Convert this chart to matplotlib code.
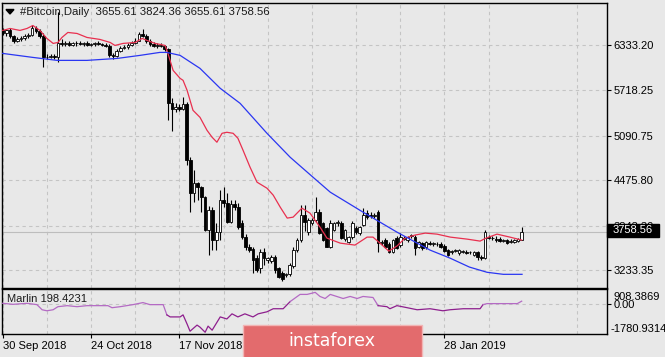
import matplotlib
matplotlib.use('Agg')
import matplotlib.pyplot as plt
import numpy as np
from matplotlib.patches import Rectangle, Polygon

# daily candles, 30 Sep 2018 .. 18 Feb 2019
opens = [6540, 6500, 6540, 6460, 6400, 6420, 6440, 6460, 6480, 6570,
         6530, 6470, 6170, 6180, 6190, 6170, 6370, 6350, 6370, 6345,
         6360, 6370, 6350, 6360, 6345, 6350, 6365, 6350, 6335, 6330,
         6200, 6190, 6260, 6300, 6310, 6340, 6370, 6400, 6490, 6470,
         6400, 6350, 6330, 6340, 6320, 6280, 5540, 5450, 5480, 5450,
         5530, 4760, 4300, 4430, 4380, 4240, 3790, 4060, 3650, 3760,
         4200, 4160, 3900, 4150, 4100, 3880, 3690, 3560, 3530, 3400,
         3260, 3480, 3380, 3360, 3420, 3260, 3200, 3170, 3180, 3290,
         3510, 3650, 3990, 3760, 3890, 3930, 4040, 3880, 3810, 3560,
         3790, 3890, 3890, 3660, 3630, 3690, 3810, 3750, 3860, 4020,
         3990, 3980, 4040, 3610, 3650, 3600, 3490, 3680, 3580, 3680,
         3650, 3700, 3690, 3560, 3610, 3550, 3610, 3590, 3600, 3600,
         3570, 3510, 3480, 3500, 3470, 3490, 3490, 3480, 3450, 3480,
         3420, 3400, 3690, 3680, 3670, 3660, 3640, 3650, 3630, 3630,
         3640, 3655.61]
highs = [6580, 6560, 6570, 6480, 6450, 6470, 6490, 6500, 6610, 6600,
         6560, 6500, 6210, 6220, 6210, 6800, 6420, 6390, 6400, 6380,
         6390, 6400, 6380, 6390, 6370, 6380, 6390, 6370, 6360, 6350,
         6230, 6290, 6320, 6340, 6360, 6390, 6430, 6520, 6560, 6490,
         6420, 6380, 6360, 6370, 6340, 6300, 5610, 5540, 5520, 5620,
         5550, 4790, 4610, 4450, 4400, 4260, 4120, 4100, 3880, 4340,
         4380, 4300, 4200, 4200, 4160, 3920, 3730, 3600, 3560, 3440,
         3530, 3540, 3420, 3450, 3450, 3280, 3220, 3200, 3330, 3560,
         3680, 4130, 4140, 3950, 3960, 4240, 4080, 3900, 3830, 3920,
         3900, 3920, 3910, 3800, 3710, 3910, 3850, 3850, 4090, 4070,
         4040, 4030, 4060, 3650, 3680, 3630, 3670, 3700, 3750, 3710,
         3710, 3740, 3720, 3640, 3630, 3640, 3640, 3630, 3620, 3620,
         3590, 3530, 3520, 3530, 3530, 3520, 3510, 3500, 3500, 3500,
         3440, 3790, 3720, 3710, 3700, 3690, 3670, 3670, 3660, 3670,
         3680, 3824.36]
lows = [6480, 6470, 6430, 6360, 6380, 6390, 6410, 6430, 6470, 6500,
        6440, 6030, 6140, 6160, 6150, 6100, 6330, 6330, 6330, 6320,
        6330, 6340, 6320, 6330, 6320, 6330, 6340, 6320, 6310, 6170,
        6150, 6170, 6240, 6280, 6290, 6320, 6350, 6390, 6450, 6370,
        6330, 6310, 6300, 6310, 6260, 5300, 5160, 5420, 5430, 5440,
        4690, 4040, 4180, 4200, 4040, 3780, 3450, 3510, 3510, 3650,
        4100, 3880, 3880, 4060, 3800, 3660, 3520, 3480, 3200, 3210,
        3200, 3300, 3330, 3340, 3200, 3130, 3090, 3140, 3150, 3270,
        3480, 3620, 3780, 3720, 3860, 3900, 3740, 3640, 3550, 3540,
        3770, 3850, 3660, 3640, 3610, 3670, 3740, 3720, 3840, 3940,
        3950, 3950, 3490, 3580, 3540, 3470, 3470, 3530, 3560, 3650,
        3630, 3680, 3440, 3540, 3520, 3530, 3580, 3570, 3570, 3540,
        3490, 3430, 3460, 3480, 3450, 3470, 3460, 3460, 3430, 3380,
        3380, 3390, 3660, 3650, 3630, 3620, 3620, 3600, 3610, 3610,
        3620, 3655.61]
closes = [6500, 6540, 6460, 6400, 6420, 6440, 6460, 6480, 6570, 6530,
          6470, 6170, 6180, 6190, 6170, 6370, 6350, 6370, 6345, 6360,
          6370, 6350, 6360, 6345, 6350, 6365, 6350, 6335, 6330, 6200,
          6190, 6260, 6300, 6310, 6340, 6370, 6400, 6490, 6470, 6400,
          6350, 6330, 6340, 6320, 6280, 5540, 5450, 5480, 5450, 5530,
          4760, 4300, 4430, 4380, 4240, 3790, 4060, 3650, 3760, 4200,
          4160, 3900, 4150, 4100, 3830, 3690, 3560, 3520, 3370, 3240,
          3480, 3400, 3400, 3420, 3240, 3140, 3120, 3180, 3300, 3510,
          3650, 3990, 3900, 3930, 3930, 4040, 3750, 3650, 3560, 3880,
          3880, 3900, 3680, 3790, 3690, 3880, 3760, 3830, 3990, 3970,
          3980, 4000, 3610, 3620, 3560, 3490, 3650, 3545, 3690, 3670,
          3690, 3720, 3540, 3620, 3540, 3620, 3600, 3610, 3590, 3550,
          3500, 3450, 3500, 3510, 3510, 3500, 3470, 3490, 3490, 3410,
          3400, 3760, 3680, 3675, 3650, 3640, 3650, 3615, 3640, 3650,
          3670, 3758.56]

# fast (red) and slow (blue) moving averages
red_x = [0, 2.0, 4.7, 6.6, 8.2, 10.1, 12.0, 13.7, 15.0, 16.1, 17.7,
         20.2, 22.9, 26.4, 29.2, 30.5, 32.7, 36.0, 37.9, 39.2, 41.4,
         44.1, 44.9, 46.3, 48.2, 49.0, 50.1, 51.7, 53.6, 55.5, 56.9,
         58.2, 59.6, 60.9, 62.6, 63.9, 65.3, 67.2, 69.1, 71.8, 73.5,
         75.4, 77.3, 78.9, 81.3, 83.5, 86.2, 88.1, 91.7, 95.7, 99.0,
         100.6, 102.5, 104.9, 107.1, 109.3, 112.0, 114.8, 118.0, 121.6, 126.2,
         129.7, 131.3, 134.3, 137.8, 141.0]
red_y = [6540, 6567, 6540, 6567, 6608, 6540, 6430, 6361, 6374, 6443, 6512,
         6498, 6443, 6416, 6374, 6333, 6361, 6374, 6430, 6402, 6361,
         6333, 6223, 5989, 5879, 5852, 5714, 5439, 5342, 5164, 5067,
         4999, 5122, 5136, 5122, 5054, 4888, 4655, 4448, 4365, 4269,
         4104, 3953, 3966, 4090, 4021, 3829, 3677, 3608, 3581, 3691,
         3691, 3608, 3498, 3567, 3677, 3719, 3746, 3732, 3691, 3663,
         3636, 3677, 3732, 3691, 3650]
blue_x = [0, 8.2, 14.8, 22.9, 31.1, 37.3, 42.7, 44.6, 48.2, 53.6, 59.1, 64.5,
          71.8, 78.1, 84.3, 89.0, 97.9, 107.1, 116.1, 121.5, 126.8, 131.6,
          136.0, 141.1]
blue_y = [6223, 6168, 6127, 6127, 6154, 6196, 6237, 6237, 6196, 6017, 5742, 5535,
          5122, 4792, 4517, 4310, 4035, 3760, 3512, 3402, 3278, 3206,
          3178, 3178]

# Marlin oscillator
marlin_x = [0, 2.8, 6.6, 9.3, 10.7, 12.0, 13.7, 15.0, 17.5, 20.2,
            22.9, 26.4, 28.6, 29.7, 31.9, 35.4, 38.1, 40.0, 43.6, 44.6,
            45.5, 48.2, 49.0, 50.1, 50.9, 52.8, 53.6, 55.0, 55.8, 56.9,
            59.1, 60.9, 62.3, 63.9, 65.8, 68.0, 69.4, 71.8, 73.5, 76.2,
            78.1, 80.8, 82.7, 84.9, 86.2, 87.6, 89.0, 92.5, 94.4, 96.3,
            97.9, 100.6, 102.0, 104.4, 105.2, 107.1, 109.9, 112.6, 116.1, 119.6,
            121.5, 125.1, 129.7, 130.5, 131.6, 136.0, 139.8, 141.0]
marlin_y = [71, 10, 71, -8, -314, -375, -314, -131, -69, -131,
            -69, -69, -69, -192, -131, -8, 114, -8, -8, -620,
            -742, -742, -620, -1170, -1597, -1231, -1353, -1659, -1292, -1536,
            -742, -864, -558, -742, -558, -742, -558, -436, -253, -253,
            175, 603, 603, 725, 481, 358, 603, 358, 481, 358,
            481, 419, -69, -131, -253, -69, -192, -314, -253, -375,
            -314, -253, -253, -8, 53, 53, 53, 198.4231]

price_ticks = [6333.20, 5718.25, 5090.75, 4475.80, 3848.30, 3233.35]
date_days = [0, 24, 48, 72, 96, 120]
# 11 Dec and 4 Jan sit under the watermark, so they are not shown
date_labels = ['30 Sep 2018', '24 Oct 2018', '17 Nov 2018', '', '', '28 Jan 2019']
last_price = 3758.56

plt.rcParams['font.family'] = ['Liberation Sans', 'DejaVu Sans']
plt.rcParams['font.size'] = 8

bg = '#e8e8e8'
grid_col = '#c4c4c4'
W, H = 665, 357

fig = plt.figure(figsize=(6.65, 3.57), dpi=100)
fig.patch.set_facecolor(bg)

ax = fig.add_axes([2 / W, 1 - 287.7 / H, 604.7 / W, 285.2 / H])
ax2 = fig.add_axes([2 / W, 1 - 334.3 / H, 604.7 / W, 45 / H])

for a in (ax, ax2):
    a.set_facecolor(bg)
    for s in a.spines.values():
        s.set_color('black')
        s.set_linewidth(1.0)
    a.set_xlim(-0.19, 164.1)
    a.set_xticks(date_days)
    a.set_xticks(np.arange(12, 164, 24), minor=True)
    a.grid(which='both', axis='x', color=grid_col, ls=(0, (3, 3)), lw=0.8)
    a.set_axisbelow(True)

# candles
days = np.arange(len(opens))
o = np.array(opens, dtype=float)
c = np.array(closes, dtype=float)
up = c >= o
bottoms = np.minimum(o, c)
heights = np.maximum(np.abs(c - o), 10)
ax.vlines(days, lows, highs, color='black', lw=0.8, zorder=3)
ax.bar(days[up], heights[up], bottom=bottoms[up], width=0.72,
       color='white', edgecolor='black', lw=0.6, zorder=4)
ax.bar(days[~up], heights[~up], bottom=bottoms[~up], width=0.72,
       color='black', edgecolor='black', lw=0.6, zorder=4)

ax.plot(red_x, red_y, color='#e8304f', lw=0.9, zorder=5)
ax.plot(blue_x, blue_y, color='#2a36f2', lw=0.9, zorder=5)
ax.axhline(last_price, color='#bdbdbd', lw=0.8, zorder=1)

ax.set_ylim(2993.6, 6924.9)
ax.yaxis.tick_right()
ax.set_yticks(price_ticks)
ax.set_yticklabels(['%.2f' % v for v in price_ticks])
ax.grid(axis='y', color=grid_col, ls=(0, (3, 3)), lw=0.8)
ax.tick_params(axis='y', direction='out', length=3, width=0.8, pad=2,
               labelsize=8, colors='black')
ax.tick_params(axis='x', which='both', length=0, labelbottom=False)

# Marlin sub-window
light, dark = '#b46ac4', '#8e1f8e'
segs = [(0, 19, light), (19, 40, dark), (40, 52, light), (52, 63, dark), (63, 67, light)]
for i0, i1, col in segs:
    ax2.plot(marlin_x[i0:i1 + 1], marlin_y[i0:i1 + 1], color=col, lw=0.9, zorder=3)
ax2.axhline(0, color=grid_col, ls=(0, (3, 3)), lw=0.8, zorder=1)
ax2.set_ylim(-1780.9314, 908.3869)
ax2.yaxis.tick_right()
ax2.set_yticks([0])
ax2.set_yticklabels(['0.00'])
ax2.tick_params(axis='y', direction='out', length=3, width=0.8, pad=2,
                labelsize=8, colors='black')
ax2.set_xticklabels(date_labels, ha='left')
ax2.tick_params(axis='x', which='major', direction='out', length=3, width=0.8,
                pad=1.5, labelsize=8, colors='black')
ax2.tick_params(axis='x', which='minor', length=0)
ax2.text(1.0105, 0.829, '908.3869', transform=ax2.transAxes, ha='left',
         va='center', fontsize=8, clip_on=False)
ax2.text(1.0055, 0.118, '-1780.9314', transform=ax2.transAxes, ha='left',
         va='center', fontsize=8, clip_on=False)
ax2.text(0.008, 0.784, 'Marlin 198.4231', transform=ax2.transAxes, ha='left',
         va='center', fontsize=8, color='#1a1a1a')

# title line with the little drop-down triangle
fig.add_artist(Polygon([(6 / W, 1 - 9.5 / H), (14 / W, 1 - 9.5 / H), (10 / W, 1 - 14 / H)],
                       closed=True, transform=fig.transFigure, color='black'))
fig.text(20 / W, 1 - 12.3 / H, '#Bitcoin,Daily  3655.61 3824.36 3655.61 3758.56',
         ha='left', va='center', fontsize=8.2, color='#1a1a1a')

# current price box on the scale
fig.add_artist(Rectangle((607 / W, 1 - 236.5 / H), 52 / W, 12.5 / H,
                         transform=fig.transFigure, color='black', zorder=10))
fig.text(633 / W, 1 - 230.3 / H, '%.2f' % last_price, ha='center', va='center',
         fontsize=8, color='white', zorder=11)

# watermark banner
fig.add_artist(Rectangle((243 / W, -0.01), 179 / W, 1 - 325 / H + 0.01,
                         transform=fig.transFigure, facecolor='#e36b6d',
                         edgecolor='#f2b4b4', lw=1.0, zorder=12))
fig.text(332 / W, 1 - 341 / H, 'instaforex', ha='center', va='center',
         fontsize=12.5, color='white', family='DejaVu Sans', zorder=13)

fig.savefig('out.png', dpi=100, facecolor=bg)
